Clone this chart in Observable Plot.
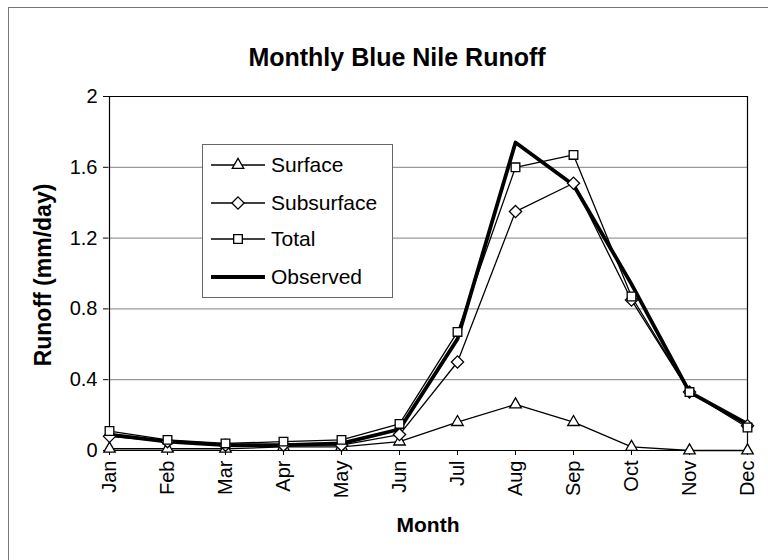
<!DOCTYPE html>
<html><head><meta charset="utf-8">
<script src="https://cdn.jsdelivr.net/npm/d3@7"></script>
<script src="https://cdn.jsdelivr.net/npm/@observablehq/plot@0.6"></script>
<style>
body{margin:0;background:#fff;font-family:"Liberation Sans",Arial,sans-serif;}
#wrap{position:relative;width:768px;height:560px;overflow:hidden;}
#border{position:absolute;left:8px;top:7px;width:780px;height:600px;border-left:1px solid #777;border-top:1px solid #777;}
.t{position:absolute;font-weight:bold;color:#000;white-space:nowrap;}
#title{left:397px;top:57px;font-size:25px;transform:translate(-50%,-50%);}
#ylab{left:43px;top:275px;font-size:23px;transform:translate(-50%,-50%) rotate(-90deg);}
#xlab{left:428px;top:525px;font-size:21px;transform:translate(-50%,-50%);}
#legend{position:absolute;left:202px;top:144px;width:189px;height:152px;border:1px solid #666;background:#fff;}
</style></head>
<body>
<div id="wrap">
<div id="border"></div>
<div id="chart"></div>
<div class="t" id="title">Monthly Blue Nile Runoff</div>
<div class="t" id="ylab">Runoff (mm/day)</div>
<div class="t" id="xlab">Month</div>
<div id="legend"></div>
</div>
<script>
const months = ["Jan","Feb","Mar","Apr","May","Jun","Jul","Aug","Sep","Oct","Nov","Dec"];
const surface    = [0.01,0.01,0.01,0.02,0.02,0.05,0.16,0.26,0.16,0.02,0.00,0.00];
const subsurface = [0.08,0.05,0.03,0.03,0.03,0.09,0.50,1.35,1.51,0.85,0.33,0.14];
const total      = [0.11,0.06,0.04,0.05,0.06,0.15,0.67,1.60,1.67,0.87,0.33,0.13];
const observed   = [0.09,0.05,0.03,0.03,0.04,0.12,0.63,1.74,1.50,0.94,0.33,0.15];
const seriesNames = ["Surface","Subsurface","Total","Observed"];
const yTicks = [0,0.4,0.8,1.2,1.6,2];

const series = {Surface: surface, Subsurface: subsurface, Total: total, Observed: observed};
const symbols = {Surface: "triangle2", Subsurface: "diamond2", Total: "square2"};
const rows = seriesNames.flatMap(s => months.map((m,i) => ({series: s, month: m, value: series[s][i]})));
const modeled = rows.filter(d => d.series !== "Observed");
const obs = rows.filter(d => d.series === "Observed");

const chart = Plot.plot({
  width: 768, height: 560,
  marginLeft: 108, marginRight: 20, marginTop: 96, marginBottom: 110,
  style: {fontFamily: "'Liberation Sans', Arial, sans-serif", fontSize: "20px", color: "#000", background: "transparent"},
  x: {type: "point", domain: months, padding: 0},
  y: {domain: [0, 2]},
  marks: [
    Plot.gridY(yTicks.filter(d => d > 0 && d < 2), {stroke: "#808080", strokeOpacity: 1}),
    Plot.ruleY([2], {stroke: "#000", strokeWidth: 1.2}),
    Plot.ruleX([months[months.length-1]], {stroke: "#000", strokeWidth: 1.2}),
    Plot.ruleY([0], {stroke: "#000", strokeWidth: 1.2}),
    Plot.ruleX([months[0]], {stroke: "#000", strokeWidth: 1.2}),
    Plot.axisY({ticks: yTicks, tickFormat: d => String(d), tickSize: 5, tickPadding: 6, label: null}),
    Plot.axisX({tickRotate: -90, tickSize: 5, tickPadding: 5, label: null}),
    Plot.line(modeled, {x: "month", y: "value", z: "series", stroke: "#000", strokeWidth: 1.3}),
    Plot.line(obs, {x: "month", y: "value", stroke: "#000", strokeWidth: 3.8}),
    Plot.dot(modeled, {x: "month", y: "value", symbol: d => symbols[d.series], r: 5.5, fill: "#fff", stroke: "#000", strokeWidth: 1.3})
  ]
});
document.getElementById("chart").appendChild(chart);

// legend
const lg = d3.select("#legend").append("svg").attr("width", 189).attr("height", 152)
  .style("font-family", "'Liberation Sans', Arial, sans-serif").style("font-size", "21px");
const itemY = [20, 58, 94, 132];
seriesNames.forEach((s, i) => {
  const g = lg.append("g").attr("transform", `translate(0,${itemY[i]})`);
  g.append("line").attr("x1", 8).attr("x2", 62).attr("y1", 0).attr("y2", 0)
    .attr("stroke", "#000").attr("stroke-width", s === "Observed" ? 3.8 : 1.3);
  if (symbols[s]) {
    const sym = {triangle2: d3.symbolTriangle2, diamond2: d3.symbolDiamond2, square2: d3.symbolSquare2}[symbols[s]];
    g.append("path").attr("transform", "translate(35,0)")
      .attr("d", d3.symbol(sym, Math.PI * 5.5 * 5.5)())
      .attr("fill", "#fff").attr("stroke", "#000").attr("stroke-width", 1.3);
  }
  g.append("text").attr("x", 68).attr("y", 0).attr("dy", "0.35em").text(s);
});
</script>
</body></html>
